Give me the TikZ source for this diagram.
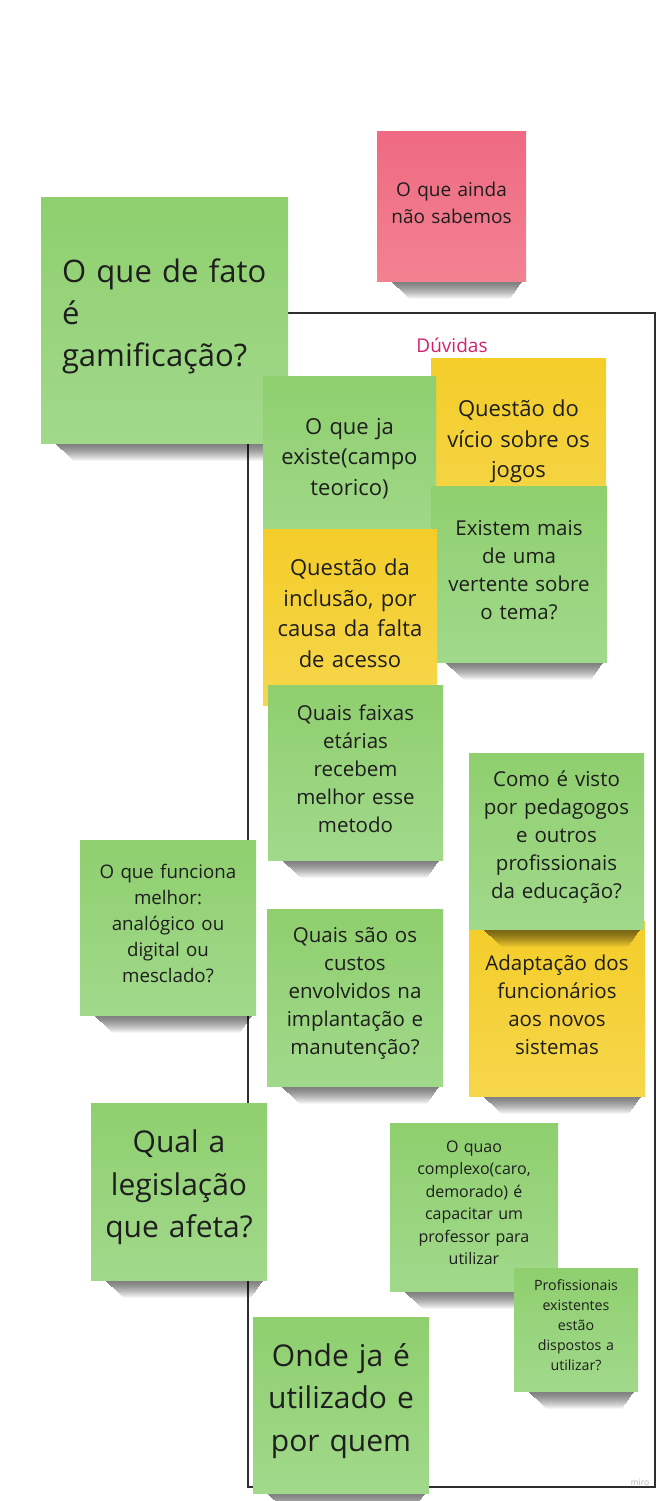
\documentclass[tikz,border=0pt]{standalone}
\usepackage{fontspec}
\setmainfont{Open Sans}
\usetikzlibrary{calc}
\definecolor{gtop}{HTML}{8FCF6E}
\definecolor{gbot}{HTML}{A1D98B}
\definecolor{ytop}{HTML}{F4CD29}
\definecolor{ybot}{HTML}{F6D64B}
\definecolor{rtop}{HTML}{EF6A82}
\definecolor{rbot}{HTML}{F28291}
\definecolor{ink}{HTML}{1E1E1E}
\definecolor{title_c}{HTML}{D4206F}
\tikzset{
  note/.style = {rectangle, inner sep=0pt, align=center, text=ink,
    minimum width=175pt, minimum height=175pt, text width=165pt,
    execute at end node={\par\kern 8pt},
    append after command={\pgfextra{
      \foreach \i in {0,...,17}{
        \pgfmathsetmacro\op{0.5*(1-(\i/18)^1.5)}
        \fill[black, opacity=\op]
          ([shift={(14+1.1*\i,\i)}]\tikzlastnode.south west) rectangle ([shift={(-4-0.7*\i,\i+1)}]\tikzlastnode.south east);}}}},
  note_g/.style = {note, top color=gtop, bottom color=gbot},
  note_y/.style = {note, top color=ytop, bottom color=ybot},
  note_r/.style = {note, top color=rtop, bottom color=rbot},
  f_xl/.style = {font=\fontsize{31}{42}\selectfont},
  f_l/.style = {font=\fontsize{30}{42.5}\selectfont},
  f_m/.style = {font=\fontsize{22}{30.5}\selectfont},
  f_n/.style = {font=\fontsize{20.5}{28}\selectfont},
  f_p/.style = {font=\fontsize{19}{27}\selectfont},
  f_s/.style = {font=\fontsize{18.7}{26}\selectfont},
  f_xs/.style = {font=\fontsize{16}{22.5}\selectfont},
  f_xxs/.style = {font=\fontsize{14.2}{20}\selectfont},
  frame/.style = {draw=black!82, line width=1.8pt},
  title_t/.style = {inner sep=0pt, text=title_c, font=\fontsize{19}{23}\selectfont}
}
\begin{document}
\begin{tikzpicture}[x=1pt, y=-1pt]
  \useasboundingbox (0,0) rectangle (666,1501);
  \coordinate (frame_nw) at (248,313);
  \coordinate (frame_se) at (655,1487);
  \draw[frame] (frame_nw) rectangle (frame_se);
  \node[title_t] (duvidas) at (452,345) {Dúvidas};
  \node[inner sep=0pt, text=black!30, font=\fontsize{8.5}{10}\selectfont] (miro) at (640,1482) {miro};

  \node[note_r, minimum width=149pt, minimum height=149pt, text width=140pt, f_p] (ainda) at (451.5,206.5) {O que ainda\\não sabemos};
  \node[note_g, minimum width=247pt, minimum height=246pt, f_xl, align=left, text width=205pt] (fato) at (164.5,320) {O que de fato\\é\\gamificação?};
  \node[note_y, f_m] (vicio) at (518.5,445.5) {Questão do\\vício sobre os\\jogos};
  \node[note_g, minimum width=173pt, minimum height=173pt, f_m] (existe) at (349.5,462.5) {O que ja\\existe(campo\\teorico)};
  \node[note_g, minimum width=176pt, minimum height=176pt, f_n] (vertente) at (519,574) {Existem mais\\de uma\\vertente sobre\\o tema?};
  \node[note_y, minimum width=174pt, minimum height=176pt, f_m] (inclusao) at (350,617) {Questão da\\inclusão, por\\causa da falta\\de acesso};
  \node[note_g, f_n] (faixas) at (355.5,772.5) {Quais faixas\\etárias\\recebem\\melhor esse\\metodo};
  \node[note_y, minimum width=176pt, f_n] (adapta) at (557,1008.5) {Adaptação dos\\funcionários\\aos novos\\sistemas};
  \node[note_g, minimum height=176pt, f_n] (visto) at (556.5,841) {Como é visto\\por pedagogos\\e outros\\profissionais\\da educação?};
  \node[note_g, minimum width=176pt, f_s] (funciona) at (168,927.5) {O que funciona\\melhor:\\analógico ou\\digital ou\\mesclado?};
  \node[note_g, minimum width=176pt, minimum height=177pt, f_n] (custos) at (355,997.5) {Quais são os\\custos\\envolvidos na\\implantação e\\manutenção?};
  \node[note_g, minimum width=176pt, minimum height=177pt, f_l] (legisla) at (179,1191.5) {Qual a\\legislação\\que afeta?};
  \node[note_g, minimum width=168pt, minimum height=168pt, text width=160pt, f_xs] (complexo) at (474,1207) {O quao\\complexo(caro,\\demorado) é\\capacitar um\\professor para\\utilizar};
  \node[note_g, minimum width=124pt, minimum height=123pt, text width=116pt, f_xxs] (dispostos) at (576,1329.5) {Profissionais\\existentes\\estão\\dispostos a\\utilizar?};
  \node[note_g, minimum width=176pt, minimum height=176pt, f_l] (onde) at (341,1405) {Onde ja é\\utilizado e\\por quem};
\end{tikzpicture}
\end{document}
